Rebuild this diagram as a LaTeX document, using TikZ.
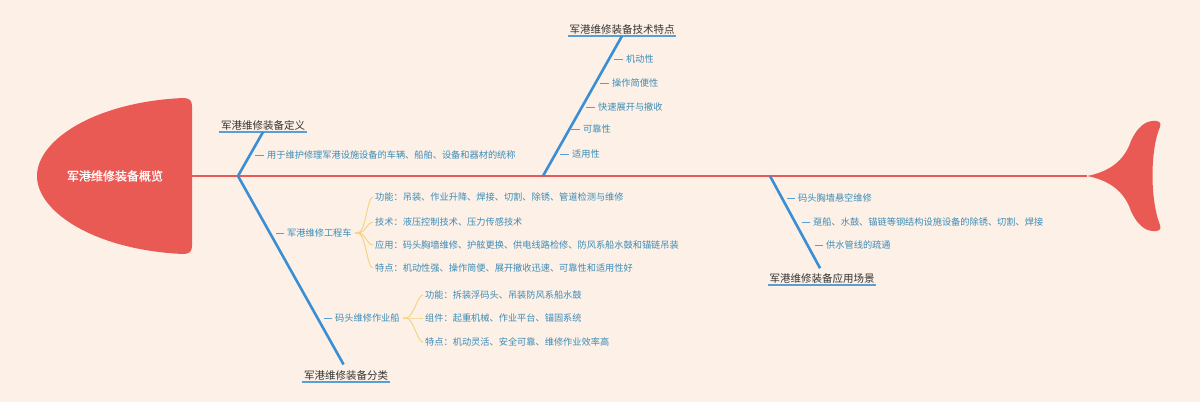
\documentclass[tikz,border=0pt]{standalone}
\usepackage{fontspec}
\setmainfont{Noto Sans CJK SC}
\newfontfamily\headfont{Noto Sans CJK SC}[FakeBold=1.2]
\usepackage{tikz}
\usetikzlibrary{positioning}

\definecolor{bgpeach}{HTML}{FDF0E6}
\definecolor{fishred}{HTML}{E95A55}
\definecolor{boneblue}{HTML}{3A8FD4}
\definecolor{lineblue}{HTML}{5A9FD4}
\definecolor{leaftext}{HTML}{3A8CB8}
\definecolor{titletext}{HTML}{333333}
\definecolor{braceyellow}{HTML}{F5D27C}

\begin{document}
\begin{tikzpicture}[x=1pt,y=-1pt,
	bone/.style={draw=boneblue, line width=2.6pt},
	uline/.style={draw=lineblue, line width=1.8pt},
	tick/.style={draw=lineblue, line width=0.9pt},
	brace/.style={draw=braceyellow, line width=0.9pt},
	title/.style={text=titletext, font=\fontsize{10.5}{12}\selectfont, inner sep=1.5pt},
	leaf/.style={text=leaftext, font=\fontsize{9.2}{10}\selectfont, inner xsep=3pt, inner ysep=1.5pt, anchor=west}]
	\fill[bgpeach] (0,0) rectangle (1200,402);
	\useasboundingbox (0,0) rectangle (1200,402);

	% head and tail of the fish
	\fill[fishred] (192,106) .. controls (192,100) and (189,98) .. (183,98)
		.. controls (95,102) and (37,140) .. (37,176)
		.. controls (37,212) and (95,250) .. (183,254)
		.. controls (189,254) and (192,252) .. (192,246) -- cycle;
	\node[text=white, font=\headfont\fontsize{12}{14}\selectfont] (head) at (115,176) {军港维修装备概览};
	\fill[fishred] (1087,176) .. controls (1108,172) and (1122,162) .. (1129,146)
		.. controls (1134,132) and (1142,122) .. (1152,121)
		.. controls (1158,120) and (1162,122) .. (1160,127)
		.. controls (1150,150) and (1150,200) .. (1160,225)
		.. controls (1162,230) and (1158,232) .. (1152,231)
		.. controls (1142,230) and (1134,220) .. (1129,206)
		.. controls (1122,190) and (1108,180) .. (1087,176) -- cycle;
	\coordinate (spine_l) at (192,176);
	\coordinate (spine_r) at (1087,176);
	\draw[fishred, line width=1.1pt] (spine_l) -- (spine_r);

	\coordinate (j_def) at (238,176);
	\coordinate (j_tech) at (543,176);
	\coordinate (j_app) at (770,176);

	% definition
	\node[title, anchor=south] (def_title) at (263,132) {军港维修装备定义};
	\draw[uline] (def_title.south west) -- (def_title.south east);
	\draw[bone] (j_def) -- (def_title.south);
	\node[leaf] (def_desc) at (264,155) {用于维护修理军港设施设备的车辆、船舶、设备和器材的统称};
	\draw[tick] (def_desc.west) -- ++(-9,0);

	% technical features
	\node[title, anchor=south] (tech_title) at (622,36) {军港维修装备技术特点};
	\draw[uline] (tech_title.south west) -- (tech_title.south east);
	\draw[bone] (j_tech) -- (tech_title.south);
	\node[leaf] (tech_mob) at (623,59) {机动性};
	\node[leaf] (tech_easy) at (609,83) {操作简便性};
	\node[leaf] (tech_fast) at (595,107) {快速展开与撤收};
	\node[leaf] (tech_rel) at (580,129) {可靠性};
	\node[leaf] (tech_fit) at (569,154) {适用性};
	\foreach \n in {tech_mob,tech_easy,tech_fast,tech_rel,tech_fit}
		\draw[tick] (\n.west) -- ++(-9,0);

	% application scenes
	\node[title, anchor=south] (app_title) at (822,285) {军港维修装备应用场景};
	\draw[uline] (app_title.south west) -- (app_title.south east);
	\draw[bone, shorten >=4pt] (j_app) -- (app_title.north);
	\node[leaf] (app_wall) at (795,198) {码头胸墙悬空维修};
	\node[leaf] (app_steel) at (810,222) {趸船、水鼓、锚链等钢结构设施设备的除锈、切割、焊接};
	\node[leaf] (app_pipe) at (823,245) {供水管线的疏通};
	\foreach \n in {app_wall,app_steel,app_pipe}
		\draw[tick] (\n.west) -- ++(-8,0);

	% classification
	\node[title, anchor=south] (cls_title) at (346,382) {军港维修装备分类};
	\draw[uline] (cls_title.south west) -- (cls_title.south east);
	\draw[bone, shorten >=5pt] (j_def) -- (cls_title.north);

	\node[leaf] (cls_car) at (284,233) {军港维修工程车};
	\draw[tick] (cls_car.west) -- ++(-8,0);
	\node[leaf] (car_func) at (372,197) {功能：吊装、作业升降、焊接、切割、除锈、管道检测与维修};
	\node[leaf] (car_tech) at (372,222) {技术：液压控制技术、压力传感技术};
	\node[leaf] (car_use) at (372,245) {应用：码头胸墙维修、护舷更换、供电线路检修、防风系船水鼓和锚链吊装};
	\node[leaf] (car_feat) at (372,268) {特点：机动性强、操作简便、展开撤收迅速、可靠性和适用性好};
	\foreach \n in {car_func,car_tech,car_use,car_feat}
		\draw[brace] (cls_car.east) -- ++(3,0) .. controls +(8,0) and +(-6,0) .. ([xshift=1pt]\n.west);

	\node[leaf] (cls_boat) at (332,318) {码头维修作业船};
	\draw[tick] (cls_boat.west) -- ++(-8,0);
	\node[leaf] (boat_func) at (422,295) {功能：拆装浮码头、吊装防风系船水鼓};
	\node[leaf] (boat_part) at (422,318) {组件：起重机械、作业平台、锚固系统};
	\node[leaf] (boat_feat) at (422,342) {特点：机动灵活、安全可靠、维修作业效率高};
	\foreach \n in {boat_func,boat_part,boat_feat}
		\draw[brace] (cls_boat.east) -- ++(3,0) .. controls +(8,0) and +(-6,0) .. ([xshift=1pt]\n.west);
\end{tikzpicture}
\end{document}
